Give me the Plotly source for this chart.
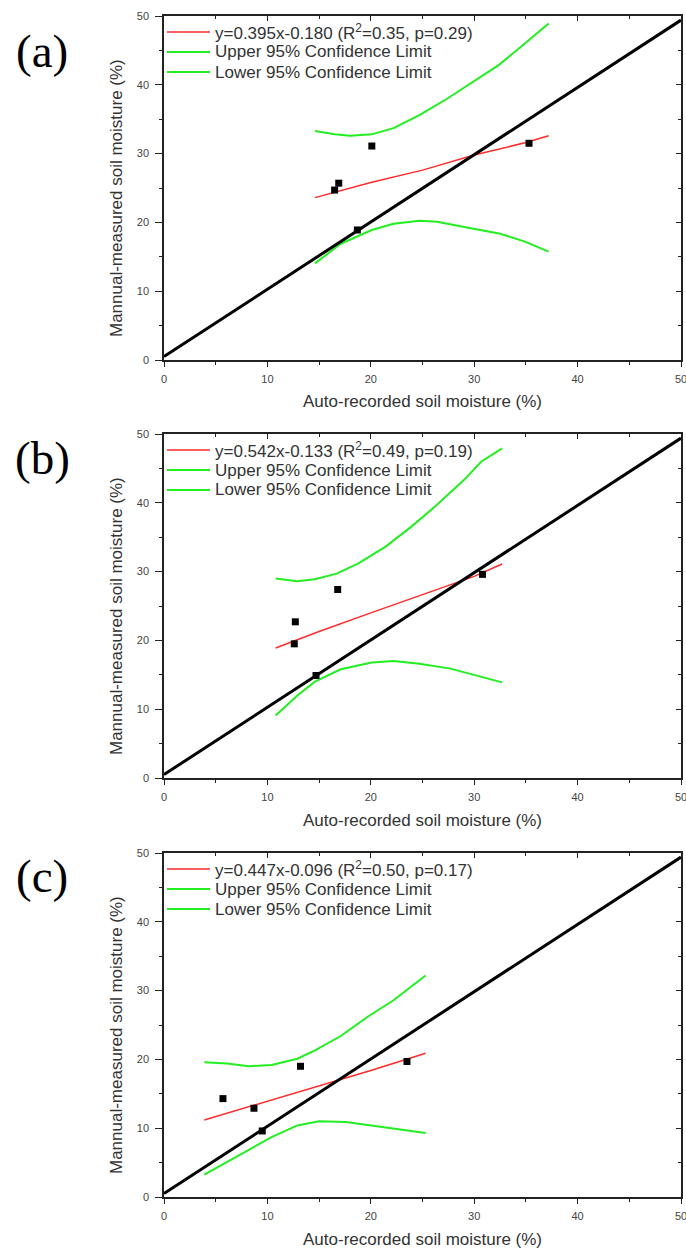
import plotly.graph_objects as go

# ---- Panel (a) ----
a_auto = [16.5, 16.9, 20.1, 18.7, 35.3]
a_manual = [24.7, 25.7, 31.1, 18.9, 31.5]
a_fit_x = [14.6, 20.0, 25.0, 30.0, 35.0, 37.2]
a_fit_y = [23.6, 25.8, 27.6, 29.8, 31.6, 32.6]
a_up_x = [14.6, 16.5, 18.0, 20.1, 22.2, 24.7, 27.3, 29.8, 32.4, 34.9, 37.2]
a_up_y = [33.3, 32.8, 32.6, 32.8, 33.7, 35.6, 37.9, 40.3, 42.9, 46.0, 48.9]
a_lo_x = [14.6, 17.1, 20.1, 22.2, 24.7, 26.4, 29.8, 32.4, 34.9, 37.2]
a_lo_y = [14.05, 16.9, 18.9, 19.8, 20.25, 20.1, 19.1, 18.4, 17.2, 15.75]
a_label = "y=0.395x-0.180 (R<sup>2</sup>=0.35, p=0.29)"

# ---- Panel (b) ----
b_auto = [12.7, 12.6, 16.8, 14.7, 30.8]
b_manual = [22.7, 19.5, 27.4, 14.9, 29.6]
b_fit_x = [10.8, 15.0, 20.0, 25.0, 30.0, 32.7]
b_fit_y = [18.9, 21.3, 24.0, 26.6, 29.3, 31.1]
b_up_x = [10.8, 12.9, 14.6, 16.7, 18.8, 21.4, 23.9, 26.4, 29.0, 30.7, 32.7]
b_up_y = [29.0, 28.6, 28.9, 29.7, 31.2, 33.6, 36.5, 39.7, 43.3, 46.0, 47.9]
b_lo_x = [10.8, 12.9, 14.6, 17.1, 20.1, 22.2, 24.7, 27.7, 30.7, 32.7]
b_lo_y = [9.1, 12.0, 14.0, 15.8, 16.8, 17.0, 16.6, 15.9, 14.7, 13.9]
b_label = "y=0.542x-0.133 (R<sup>2</sup>=0.49, p=0.19)"

# ---- Panel (c) ----
c_auto = [5.7, 8.7, 9.5, 13.2, 23.5]
c_manual = [14.3, 12.9, 9.6, 19.0, 19.7]
c_fit_x = [3.9, 10.0, 15.0, 20.0, 25.3]
c_fit_y = [11.2, 13.9, 16.2, 18.4, 20.9]
c_up_x = [3.9, 6.1, 8.2, 10.4, 12.9, 14.6, 17.1, 19.7, 22.2, 25.3]
c_up_y = [19.6, 19.4, 19.0, 19.2, 20.1, 21.3, 23.4, 26.2, 28.6, 32.2]
c_lo_x = [3.9, 6.1, 8.2, 10.4, 12.9, 15.0, 17.6, 20.1, 22.6, 25.3]
c_lo_y = [3.25, 5.1, 6.8, 8.7, 10.4, 11.0, 10.9, 10.4, 9.9, 9.3]
c_label = "y=0.447x-0.096 (R<sup>2</sup>=0.50, p=0.17)"

# 1:1 reference line
ref_x = [0, 50]
ref_y = [0.5, 49.4]

panel_names = ["(a)", "(b)", "(c)"]
upper_name = "Upper 95% Confidence Limit"
lower_name = "Lower 95% Confidence Limit"
x_title = "Auto-recorded soil moisture (%)"
y_title = "Mannual-measured soil moisture (%)"
axis_range = [0, 50]

panels = [
    (a_auto, a_manual, a_fit_x, a_fit_y, a_up_x, a_up_y, a_lo_x, a_lo_y, a_label),
    (b_auto, b_manual, b_fit_x, b_fit_y, b_up_x, b_up_y, b_lo_x, b_lo_y, b_label),
    (c_auto, c_manual, c_fit_x, c_fit_y, c_up_x, c_up_y, c_lo_x, c_lo_y, c_label),
]

W, H = 686, 1248
# plot boxes in pixels (top, bottom)
plot_left, plot_right = 164, 681
boxes = [(16, 360), (434, 778), (853, 1197)]
label_centres = [51, 458, 876]


def px_y(p):
    return 1 - p / H


def px_x(p):
    return p / W


RED = "#ff2a2a"
GREEN = "#22ee22"
AX = "#222222"
TXT = "#333333"
SANS = "Liberation Sans, Arial, sans-serif"

fig = go.Figure()
layout = dict(
    width=W, height=H,
    margin=dict(l=0, r=0, t=0, b=0, autoexpand=False),
    paper_bgcolor="white", plot_bgcolor="white",
    font=dict(family=SANS, color=TXT),
    showlegend=False,
)
annotations = []
shapes = []

for i, (ax_, my_, fx, fy, ux, uy, lx, ly, lab) in enumerate(panels):
    n = i + 1
    xa = "x" if n == 1 else f"x{n}"
    ya = "y" if n == 1 else f"y{n}"
    top, bot = boxes[i]

    fig.add_trace(go.Scatter(x=fx, y=fy, mode="lines", name=lab,
                             line=dict(color=RED, width=1.5), xaxis=xa, yaxis=ya))
    fig.add_trace(go.Scatter(x=ux, y=uy, mode="lines", name=upper_name,
                             line=dict(color=GREEN, width=2), xaxis=xa, yaxis=ya))
    fig.add_trace(go.Scatter(x=lx, y=ly, mode="lines", name=lower_name,
                             line=dict(color=GREEN, width=2), xaxis=xa, yaxis=ya))
    fig.add_trace(go.Scatter(x=ref_x, y=ref_y, mode="lines", name="1:1",
                             line=dict(color="black", width=3), xaxis=xa, yaxis=ya))
    fig.add_trace(go.Scatter(x=ax_, y=my_, mode="markers", name="observed",
                             marker=dict(symbol="square", size=7, color="black"),
                             xaxis=xa, yaxis=ya))

    xdom = [px_x(plot_left), px_x(plot_right)]
    ydom = [px_y(bot), px_y(top)]
    common = dict(range=axis_range, showgrid=False, zeroline=False,
                  showline=True, linecolor=AX, linewidth=1.5, mirror=True,
                  ticks="outside", tickcolor=AX, dtick=10, tick0=0,
                  automargin=False,
                  tickfont=dict(size=11, color="#444444", family=SANS),
                  minor=dict(dtick=5, ticks="outside", ticklen=3, tickcolor=AX, showgrid=False))
    layout[f"xaxis{'' if n == 1 else n}"] = dict(common, domain=xdom, anchor=ya, ticklen=5,
                                                  ticklabelstandoff=3,
                                                  ticklabeloverflow="allow")
    layout[f"yaxis{'' if n == 1 else n}"] = dict(common, domain=ydom, anchor=xa, ticklen=7,
                                                  ticklabelstandoff=4)
    # inward ticks on the top and right frame edges
    tx = 14 + 2 * i
    ty = 15 + 2 * i
    inner = dict(range=axis_range, ticks="inside", tickcolor=AX, dtick=10, tick0=0,
                 ticklen=5, showticklabels=False, showgrid=False, zeroline=False,
                 showline=False, automargin=False,
                 minor=dict(dtick=5, ticks="inside", ticklen=3, tickcolor=AX, showgrid=False))
    layout[f"xaxis{tx}"] = dict(inner, domain=xdom, anchor=ya, overlaying=xa, side="top")
    layout[f"yaxis{ty}"] = dict(inner, domain=ydom, anchor=xa, overlaying=ya, side="right")
    fig.add_trace(go.Scatter(x=[None], y=[None], xaxis=f"x{tx}", yaxis=f"y{ty}",
                             showlegend=False, hoverinfo="skip"))

    # key: sample line + text for each curve
    for k, (name, col) in enumerate([(lab, RED), (upper_name, GREEN), (lower_name, GREEN)]):
        ry = top + 16 + 20 * k
        shapes.append(dict(type="line", xref="paper", yref="paper",
                           x0=px_x(167), x1=px_x(210), y0=px_y(ry), y1=px_y(ry),
                           line=dict(color=col, width=2 if col == GREEN else 1.5)))
        annotations.append(dict(text=name, xref="paper", yref="paper",
                                x=px_x(213), y=px_y(ry), xanchor="left", yanchor="middle",
                                showarrow=False,
                                font=dict(size=17, family=SANS, color=TXT)))

    annotations.append(dict(text=x_title, xref="paper", yref="paper",
                            x=px_x((plot_left + plot_right) / 2), y=px_y(bot + 42),
                            xanchor="center", yanchor="middle", showarrow=False,
                            font=dict(size=17, family=SANS, color=TXT)))
    annotations.append(dict(text=y_title, xref="paper", yref="paper",
                            x=px_x(116), y=px_y((top + bot) / 2 + 10), textangle=-90,
                            xanchor="center", yanchor="middle", showarrow=False,
                            font=dict(size=17, family=SANS, color=TXT)))
    annotations.append(dict(text=panel_names[i], xref="paper", yref="paper",
                            x=px_x(42), y=px_y(label_centres[i]),
                            xanchor="center", yanchor="middle", showarrow=False,
                            font=dict(size=47, family="Liberation Serif, Times New Roman, serif",
                                      color="black")))

layout["annotations"] = annotations
layout["shapes"] = shapes
fig.update_layout(**layout)

fig.write_html("out.html")
